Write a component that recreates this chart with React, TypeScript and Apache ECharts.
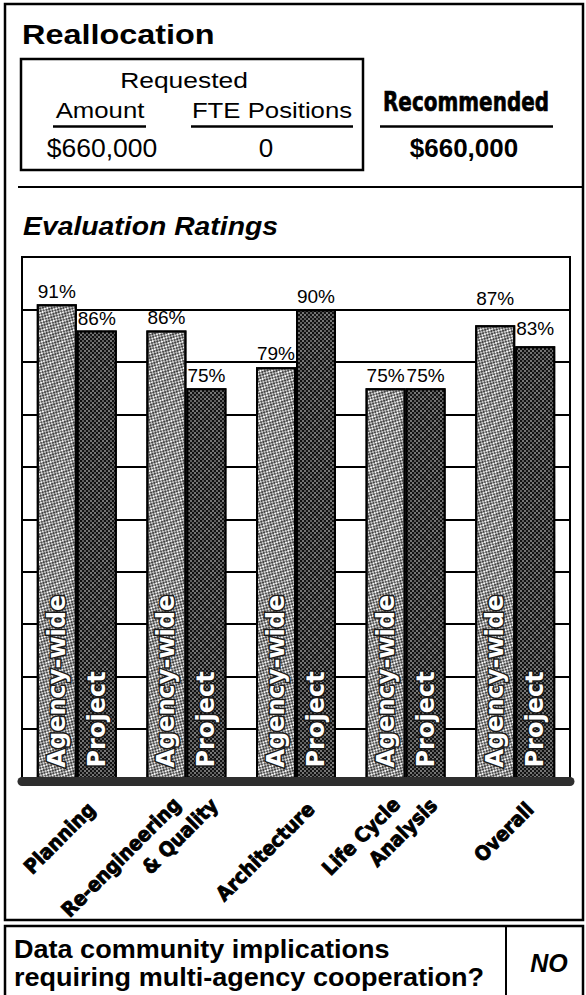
import React, { useEffect, useRef } from 'react';
import * as echarts from 'echarts';

// ---- data ----
const categories = ['Planning', 'Re-engineering & Quality', 'Architecture', 'Life Cycle Analysis', 'Overall'];
const categoryLines = [['Planning'], ['Re-engineering', '& Quality'], ['Architecture'], ['Life Cycle', 'Analysis'], ['Overall']];
const seriesNames = ['Agency-wide', 'Project'];
const agencyWide = [91, 86, 79, 75, 87];
const project = [86, 75, 90, 75, 83];
const yMin = 0;
const yMax = 100;
const yInterval = 10;

const titleText = 'Reallocation';
const requestedHeader = 'Requested';
const requestedColumns = ['Amount', 'FTE Positions'];
const requestedValues = ['$660,000', '0'];
const recommendedHeader = 'Recommended';
const recommendedValue = '$660,000';
const ratingsTitle = 'Evaluation Ratings';
const questionLines = ['Data community implications', 'requiring multi-agency cooperation?'];
const answerText = 'NO';

// ---- styling ----
const SANS = '"Liberation Sans", Arial, Helvetica, sans-serif';
const HEAVY = '"DejaVu Sans", "Liberation Sans", sans-serif';

// extra gap above the value labels of the last group, keeping them clear of the 90 line
const agencyLabelGap = [3, 3, 4, 3, 17];
const projectLabelGap = [2, 3, 3, 3, 8];

type TextOpts = {
  size: number;
  weight?: string;
  style?: string;
  family?: string;
  align?: string;
  sx?: number;
  rot?: number;
  stroke?: number;
};

function text(t: string, x: number, y: number, o: TextOpts) {
  return {
    type: 'text',
    x,
    y,
    scaleX: o.sx ?? 1,
    rotation: o.rot ?? 0,
    z: 50,
    silent: true,
    style: {
      text: t,
      fill: '#000',
      fontSize: o.size,
      fontWeight: o.weight ?? 'normal',
      fontStyle: o.style ?? 'normal',
      fontFamily: o.family ?? SANS,
      textAlign: o.align ?? 'center',
      textVerticalAlign: 'middle',
      stroke: o.stroke ? '#000' : undefined,
      lineWidth: o.stroke ?? 0,
    },
  };
}

function line(x1: number, y1: number, x2: number, y2: number, w: number) {
  return {
    type: 'line',
    z: 50,
    silent: true,
    shape: { x1, y1, x2, y2 },
    style: { stroke: '#000', lineWidth: w },
  };
}

function box(x: number, y: number, w: number, h: number, lw: number) {
  return {
    type: 'rect',
    z: 50,
    silent: true,
    shape: { x, y, width: w, height: h },
    style: { fill: 'none', stroke: '#000', lineWidth: lw },
  };
}

const lightDecal = {
  symbol: 'rect',
  symbolSize: 1,
  color: '#555555',
  dashArrayX: [[2, 2], [0, 2, 2, 0]],
  dashArrayY: [2, 0],
};
const darkDecal = {
  symbol: 'rect',
  symbolSize: 1,
  color: '#767676',
  dashArrayX: [[2, 2], [0, 2, 2, 0]],
  dashArrayY: [2, 0],
};

export default function App() {
  const ref = useRef<HTMLDivElement>(null);

  useEffect(() => {
    if (!ref.current) return;
    const chart = echarts.init(ref.current, undefined, { renderer: 'svg' });

    const innerLabel = {
      show: true,
      position: 'insideBottom',
      rotate: 90,
      align: 'left',
      verticalAlign: 'middle',
      distance: 14,
      formatter: '{a}',
      color: '#ffffff',
      fontFamily: HEAVY,
      fontWeight: 'bold',
      fontSize: 24,
      textBorderColor: '#1a1a1a',
      textBorderWidth: 3,
    };
    const valueLabel = {
      show: true,
      position: 'top',
      formatter: '{c}%',
      color: '#000',
      fontFamily: SANS,
      fontSize: 19,
    };
    const withGap = (values: number[], gaps: number[]) =>
      values.map((v, i) => ({ value: v, label: { distance: gaps[i] } }));

    const grid = { left: 22, right: 16, top: 257, bottom: 213.5, show: true, borderColor: '#000', borderWidth: 2, backgroundColor: '#fff' };

    chart.setOption({
      animation: false,
      backgroundColor: '#ffffff',
      aria: { enabled: true, label: { enabled: false }, decal: { show: true } },
      grid,
      xAxis: [
        {
          type: 'category',
          data: categories,
          z: 10,
          axisLine: { show: true, lineStyle: { color: '#2e2e2e', width: 9 } },
          axisTick: { show: false },
          axisLabel: { show: false },
        },
        {
          type: 'category',
          data: categories,
          show: false,
        },
      ],
      yAxis: {
        type: 'value',
        min: yMin,
        max: yMax,
        interval: yInterval,
        axisLine: { show: false },
        axisTick: { show: false },
        axisLabel: { show: false },
        splitLine: { show: true, lineStyle: { color: '#000', width: 2 } },
      },
      series: [
        {
          name: seriesNames[0],
          type: 'bar',
          data: agencyWide,
          barWidth: 40,
          barGap: '0%',
          itemStyle: { color: '#f6f6f6', borderColor: '#000', borderWidth: 2, decal: lightDecal },
          label: innerLabel,
        },
        {
          name: seriesNames[1],
          type: 'bar',
          data: project,
          barWidth: 40,
          barGap: '0%',
          itemStyle: { color: '#141414', borderColor: '#000', borderWidth: 2, decal: darkDecal },
          label: innerLabel,
        },
        {
          name: seriesNames[0] + ' %',
          type: 'bar',
          xAxisIndex: 1,
          data: withGap(agencyWide, agencyLabelGap),
          barWidth: 40,
          barGap: '0%',
          silent: true,
          itemStyle: { color: 'rgba(0,0,0,0)', decal: 'none' },
          label: valueLabel,
        },
        {
          name: seriesNames[1] + ' %',
          type: 'bar',
          xAxisIndex: 1,
          data: withGap(project, projectLabelGap),
          barWidth: 40,
          barGap: '0%',
          silent: true,
          itemStyle: { color: 'rgba(0,0,0,0)', decal: 'none' },
          label: valueLabel,
        },
      ],
    });

    // category names under the axis, slanted at 45 degrees
    const catLabels: any[] = [];
    categories.forEach((c, i) => {
      const x = chart.convertToPixel({ xAxisIndex: 0 }, c) as number;
      const lines = categoryLines[i];
      const opts = { size: 20, weight: 'bold', family: HEAVY, align: 'right', rot: Math.PI / 4, sx: 0.92, stroke: 0.9 };
      if (lines.length === 1) {
        catLabels.push(text(lines[0], x + 15, 806, opts));
      } else {
        catLabels.push(text(lines[0], x - 9, 801, opts));
        catLabels.push(text(lines[1], x + 28, 802, opts));
      }
    });

    const frame = [
      box(5, 4, 578, 916, 2.5),
      text(titleText, 22, 34.5, { size: 27, weight: 'bold', align: 'left', sx: 1.2 }),
      box(21, 59, 342, 111, 2.5),
      text(requestedHeader, 184, 80.3, { size: 22, sx: 1.2 }),
      text(requestedColumns[0], 100, 110, { size: 23, sx: 1.12 }),
      text(requestedColumns[1], 272, 110, { size: 23, sx: 1.12 }),
      line(53, 126.5, 146, 126.5, 2.5),
      line(191, 126.5, 353, 126.5, 2.5),
      text(requestedValues[0], 102, 148, { size: 26, sx: 1.02 }),
      text(requestedValues[1], 266, 148, { size: 26 }),
      text(recommendedHeader, 466, 102, { size: 27, weight: 'bold', family: HEAVY, sx: 0.74, stroke: 0.7 }),
      line(380, 126.5, 553, 126.5, 2.5),
      text(recommendedValue, 464, 148, { size: 26, weight: 'bold' }),
      line(18, 187, 583, 187, 2),
      text(ratingsTitle, 23, 226, { size: 26, weight: 'bold', style: 'italic', align: 'left', sx: 1.09 }),
      box(5, 926, 578, 90, 2.5),
      line(506, 926, 506, 995, 2),
      text(questionLines[0], 14, 949, { size: 26, weight: 'bold', align: 'left', sx: 1.04 }),
      text(questionLines[1], 14, 977, { size: 26, weight: 'bold', align: 'left', sx: 1.04 }),
      text(answerText, 549, 963, { size: 25, weight: 'bold', style: 'italic' }),
    ];

    chart.setOption({ graphic: { elements: [...frame, ...catLabels] } });

    return () => chart.dispose();
  }, []);

  return <div ref={ref} style={{ position: 'absolute', left: 0, top: 0, width: 586, height: 995 }} />;
}
